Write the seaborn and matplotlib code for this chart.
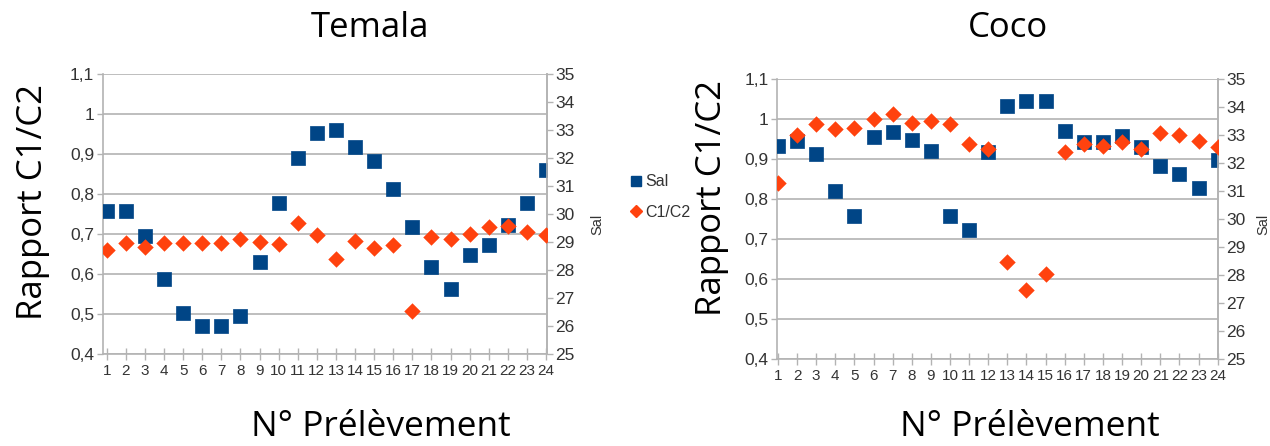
import matplotlib
matplotlib.use("Agg")
import matplotlib.pyplot as plt
import seaborn as sns
import pandas as pd
from matplotlib.ticker import FixedLocator, FuncFormatter
from matplotlib.lines import Line2D

sns.set_theme(style="white")
plt.rcParams['font.family'] = ['Liberation Sans Narrow', 'Liberation Sans', 'DejaVu Sans']

# ---- data ----
prelevement = list(range(1, 25))
x_ticks = [str(i) for i in prelevement]

temala_sal = [30.1, 30.1, 29.23, 27.69, 26.46, 26.0, 26.0, 26.38, 28.3, 30.4, 32.0, 32.9,
              33.0, 32.42, 31.91, 30.91, 29.54, 28.12, 27.32, 28.53, 28.92, 29.63, 30.4, 31.59]
temala_c1c2 = [0.661, 0.679, 0.668, 0.678, 0.678, 0.678, 0.679, 0.688, 0.682, 0.675, 0.729, 0.698,
               0.638, 0.684, 0.666, 0.674, 0.508, 0.693, 0.689, 0.702, 0.718, 0.722, 0.706, 0.698]

coco_sal = [32.61, 32.8, 32.31, 31.0, 30.11, 32.92, 33.12, 32.82, 32.43, 30.12, 29.6, 32.4,
            34.04, 34.23, 34.23, 33.14, 32.76, 32.76, 32.96, 32.56, 31.9, 31.61, 31.12, 32.11]
coco_c1c2 = [0.841, 0.96, 0.987, 0.975, 0.978, 0.999, 1.012, 0.989, 0.995, 0.987, 0.937, 0.924,
             0.642, 0.572, 0.613, 0.918, 0.938, 0.933, 0.943, 0.924, 0.966, 0.96, 0.946, 0.929]

y_left_ticks = [0.4, 0.5, 0.6, 0.7, 0.8, 0.9, 1.0, 1.1]
y_right_ticks = list(range(25, 36))

titles = ["Temala", "Coco"]
xlabel = "N° Prélèvement"
ylabel = "Rapport C1/C2"

# ---- style ----
SAL_COLOR = "#004586"
C_COLOR = "#ff420e"
GRID = "#b3b3b3"
TXT = "#333333"
W, H = 1270, 446

fig = plt.figure(figsize=(W / 100, H / 100), dpi=100)


def frac(l, t, r, b):
    return [l / W, (H - b) / H, (r - l) / W, (b - t) / H]


def comma(v, pos):
    s = ("%.1f" % v)
    if s.endswith(".0"):
        s = s[:-2]
    return s.replace(".", ",")


panels = [
    dict(rect=frac(102.7, 74.3, 546.7, 354.3), xlim=(0.79, 24.03),
         sal=temala_sal, c=temala_c1c2, title=titles[0], tx=370, ty=28,
         ylx=33, yly=202, xlx=381, salx=597),
    dict(rect=frac(777, 79, 1218, 359), xlim=(0.95, 24.02),
         sal=coco_sal, c=coco_c1c2, title=titles[1], tx=1008, ty=28,
         ylx=712, yly=198, xlx=1030, salx=1263),
]

for p in panels:
    ax = fig.add_axes(p["rect"])
    ax.set_xlim(*p["xlim"])
    ax.set_ylim(0.4, 1.1)
    ax.yaxis.set_major_locator(FixedLocator(y_left_ticks))
    ax.yaxis.set_major_formatter(FuncFormatter(comma))
    ax.set_xticks(prelevement)
    ax.set_xticklabels(x_ticks)
    ax.grid(axis="y", color=GRID, linewidth=1.2)
    ax.grid(axis="x", visible=False)
    ax.set_axisbelow(True)
    for s in ax.spines.values():
        s.set_color(GRID)
        s.set_linewidth(1.2)
    ax.spines["top"].set_visible(False)
    ax.tick_params(axis="y", direction="out", length=4, width=1,
                   color=GRID, labelsize=12.5, labelcolor=TXT, pad=2, left=True)
    ax.tick_params(axis="x", direction="inout", length=8, width=1,
                   color=GRID, labelsize=11, labelcolor=TXT, pad=3, bottom=True)

    ax2 = ax.twinx()
    ax2.set_ylim(25, 35)
    ax2.yaxis.set_major_locator(FixedLocator(y_right_ticks))
    for s in ax2.spines.values():
        s.set_visible(False)
    ax2.spines["right"].set_visible(True)
    ax2.spines["right"].set_color(GRID)
    ax2.spines["right"].set_linewidth(1.2)
    ax2.tick_params(axis="y", direction="out", length=4, width=1, color=GRID,
                    labelsize=12.5, labelcolor=TXT, pad=2, right=True)
    ax2.grid(False)
    df_sal = pd.DataFrame({"x": prelevement, "Sal": p["sal"]})
    sns.scatterplot(data=df_sal, x="x", y="Sal", ax=ax2, marker="s", s=95,
                    color=SAL_COLOR, edgecolor=SAL_COLOR, linewidth=0.5, legend=False)
    ax2.set_xlabel("")
    ax2.set_ylabel("")

    ax3 = fig.add_axes(p["rect"], sharex=ax, sharey=ax)
    ax3.axis("off")
    df_c = pd.DataFrame({"x": prelevement, "C1/C2": p["c"]})
    sns.scatterplot(data=df_c, x="x", y="C1/C2", ax=ax3, marker="D", s=70,
                    color=C_COLOR, edgecolor=C_COLOR, linewidth=0, legend=False)
    ax.set_xlim(*p["xlim"])
    ax.set_ylim(0.4, 1.1)
    ax.set_xlabel("")
    ax.set_ylabel("")

    fig.text(p["tx"] / W, 1 - p["ty"] / H, p["title"], ha="center", va="center",
             fontsize=25, family="Open Sans", color="black")
    fig.text(p["ylx"] / W, 1 - p["yly"] / H, ylabel, ha="center", va="center",
             rotation=90, fontsize=25, family="Open Sans", color="black")
    fig.text(p["xlx"] / W, 1 - 427 / H, xlabel, ha="center", va="center",
             fontsize=25.5, family="Open Sans", color="black")
    fig.text(p["salx"] / W, 1 - 224 / H, "Sal", ha="center", va="center",
             rotation=90, fontsize=10.5, color=TXT)

leg_handles = [
    Line2D([], [], linestyle="none", marker="s", markersize=7, color=SAL_COLOR),
    Line2D([], [], linestyle="none", marker="D", markersize=6, color=C_COLOR),
]
fig.legend(leg_handles, ["Sal", "C1/C2"], loc="center left",
           bbox_to_anchor=(623 / W, 1 - 197 / H), frameon=False, fontsize=11.5,
           handlelength=0.6, handletextpad=0.3, labelspacing=0.95, borderpad=0,
           labelcolor=TXT)

fig.savefig("out.png", dpi=100)
